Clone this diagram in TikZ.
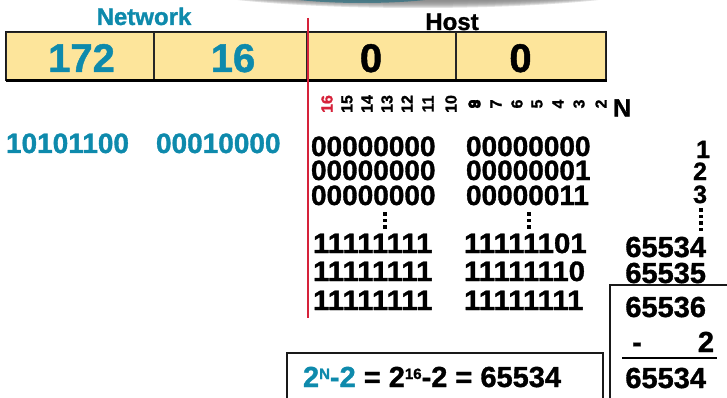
\documentclass[tikz,border=0pt]{standalone}
\usepackage{fontspec}
\setmainfont{Liberation Sans}[BoldFeatures={FakeBold=1.2}]
\definecolor{netblue}{RGB}{14,138,172}
\definecolor{boxfill}{RGB}{253,229,155}
\definecolor{splitred}{RGB}{214,34,58}
\definecolor{shade}{RGB}{110,120,130}
\definecolor{shadeteal}{RGB}{25,105,125}

\tikzset{
  txt/.style={inner sep=0pt, outer sep=0pt, font=\bfseries\fontsize{#1}{#1}\selectfont},
  bitnum/.style={txt=16, rotate=90, anchor=center},
  cell/.style={draw=black!85, line width=1.2pt, fill=boxfill, minimum height=48pt, inner sep=0pt},
  rulel/.style={draw=black!90, line width=2pt},
  bitrow/.style={txt=28, anchor=base west},
  countnum/.style={txt=29, anchor=base east},
}
\newcommand{\supsm}[1]{\raisebox{8pt}{\fontsize{15}{15}\selectfont #1}}
% rows made mostly of ones are set slightly wider
\newcommand{\wide}[1]{\scalebox{1.05}[1]{#1}}

\begin{document}
\begin{tikzpicture}[x=1pt,y=-1pt]
\useasboundingbox (0,0) rectangle (727,398);

% soft shadow of the banner above
\begin{scope}
  \clip (0,0) rectangle (727,398);
  \foreach \i in {0,...,7}{
    \fill[shade, opacity=0.13] (418,-18) ellipse [x radius={250-4*\i}, y radius={26-1*\i}];
  }
  \fill[shadeteal, opacity=0.6] (362,-12) ellipse [x radius=105, y radius=15];
\end{scope}

% address cells
\node[cell, minimum width=148.4pt] (c1) at (80.3,56) {};
\node[cell, minimum width=153pt]   (c2) at (230.5,56) {};
\node[cell, minimum width=149pt]   (c3) at (381.5,56) {};
\node[cell, minimum width=150pt]   (c4) at (531,56) {};
\draw[black!90, line width=1.5pt] (c1.north west) rectangle (c4.south east);
\draw[black, line width=2.4pt] (c1.south west) -- (c4.south east);

\node[txt=40, anchor=base, text=netblue] (o1) at (81.5,72) {172};
\node[txt=40, anchor=base, text=netblue] (o2) at (233,72) {16};
\node[txt=40, anchor=base] (o3) at (371,72) {0};
\node[txt=40, anchor=base] (o4) at (520.5,72) {0};

\node[txt=24, anchor=base, text=netblue] (net) at (144,25) {Network};
\node[txt=24, anchor=base] (host) at (452,30) {Host};

% bit positions
\node[bitnum, text=splitred] (b16) at (327,104) {16};
\node[bitnum] (b15) at (347,104) {15};
\node[bitnum] (b14) at (367,104) {14};
\node[bitnum] (b13) at (387,104) {13};
\node[bitnum] (b12) at (407,104) {12};
\node[bitnum] (b11) at (428,104) {11};
\node[bitnum] (b10) at (451,104) {10};
\node[bitnum] (b9) at (474,104) {9};
\node[bitnum] (b8) at (475,104) {8};
\node[bitnum] (b7) at (496,104) {7};
\node[bitnum] (b6) at (517,104) {6};
\node[bitnum] (b5) at (537,104) {5};
\node[bitnum] (b4) at (558,104) {4};
\node[bitnum] (b3) at (579,104) {3};
\node[bitnum] (b2) at (601,104) {2};
\node[txt=25, anchor=center] (bn) at (622,108) {N};

% network bits
\node[bitrow, text=netblue] (nb1) at (6,153) {10101100};
\node[bitrow, text=netblue] (nb2) at (156,153) {00010000};

% host bit patterns
\node[bitrow] (h1a) at (311,156) {00000000};
\node[bitrow] (h1b) at (466,156) {00000000};
\node[bitrow] (h2a) at (311,180) {00000000};
\node[bitrow] (h2b) at (466,180) {00000001};
\node[bitrow] (h3a) at (311,205) {00000000};
\node[bitrow] (h3b) at (466,205) {00000011};
\node[bitrow] (h4a) at (313,253) {\wide{11111111}};
\node[bitrow] (h4b) at (464,253) {\wide{11111101}};
\node[bitrow] (h5a) at (313,281) {\wide{11111111}};
\node[bitrow] (h5b) at (464,281) {\wide{11111110}};
\node[bitrow] (h6a) at (313,310) {\wide{11111111}};
\node[bitrow] (h6b) at (464,310) {\wide{11111111}};

\foreach \y in {212,218.5,225}{
  \fill (383,\y) rectangle ++(3.5,3.5);
  \fill (527,\y) rectangle ++(3.5,3.5);
}

% host counts
\node[txt=25, anchor=base east] (k1) at (710,158) {1};
\node[txt=25, anchor=base east] (k2) at (707,180) {2};
\node[txt=25, anchor=base east] (k3) at (707,203) {3};
\foreach \y in {208,214.5,221,227.5}{
  \fill (699,\y) rectangle ++(3.5,3.5);
}
\node[countnum] (k4) at (706,257) {65534};
\node[countnum] (k5) at (706,283) {65535};

% subtraction
\coordinate (sumtl) at (610,285);
\coordinate (sumtr) at (727,285);
\coordinate (sumbl) at (610,398);
\draw[rulel] (sumtr) -- (sumtl) -- (sumbl);
\node[countnum] (s1) at (706,317) {65536};
\node[txt=29, anchor=base] (minus) at (637,352) {-};
\node[countnum] (s2) at (714,352) {2};
\coordinate (barl) at (622,358);
\coordinate (barr) at (717,358);
\draw[black, line width=2.5pt] (barl) -- (barr);
\node[countnum] (s3) at (706,388) {65534};

% formula box
\coordinate (fbl) at (287,400);
\coordinate (ftl) at (287,353);
\coordinate (ftr) at (603,353);
\coordinate (fbr) at (603,400);
\draw[rulel] (fbl) -- (ftl) -- (ftr) -- (fbr);
\node[txt=29, anchor=base west] (formula) at (303,387)
  {\textcolor{netblue}{2\supsm{N}-2} = 2\supsm{16}-2 = 65534};

% network / host split
\coordinate (splittop) at (308,18);
\coordinate (splitbot) at (308,318);
\draw[splitred, line width=2pt] (splittop) -- (splitbot);

\end{tikzpicture}
\end{document}
